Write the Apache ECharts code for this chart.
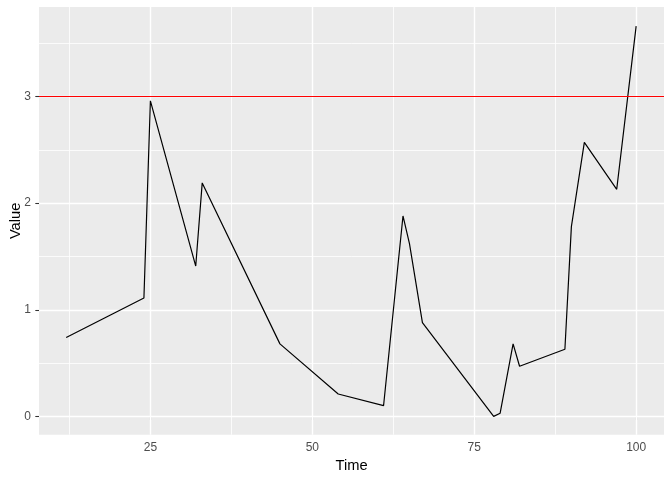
<!DOCTYPE html>
<html>
<head>
<meta charset="utf-8">
<script src="https://cdn.jsdelivr.net/npm/echarts@6/dist/echarts.min.js"></script>
<style>
html,body{margin:0;padding:0;background:#fff;}
#chart{width:672px;height:480px;}
</style>
</head>
<body>
<div id="chart"></div>
<script>
const times = [12, 24, 25, 32, 33, 45, 54, 61, 64, 65, 67, 78, 79, 81, 82, 89, 90, 92, 97, 100];
const values = [0.74, 1.11, 2.96, 1.41, 2.19, 0.68, 0.21, 0.10, 1.88, 1.62, 0.88, 0.00, 0.03, 0.68, 0.47, 0.63, 1.78, 2.57, 2.13, 3.66];
const thresholdValue = 3;
const xTicks = [25, 50, 75, 100];
const xMinor = [12.5, 37.5, 62.5, 87.5];
const yTicks = [0, 1, 2, 3];
const yMinor = [0.5, 1.5, 2.5, 3.5];
const xRange = [7.8, 104.3];
const yRange = [-0.172, 3.84];

const font = 'Liberation Sans, Arial, sans-serif';
const chart = echarts.init(document.getElementById('chart'), null, {renderer: 'canvas'});

const gridLines = [];
xMinor.forEach(v => gridLines.push({xAxis: v, lineStyle: {color: '#fff', width: 0.8, type: 'solid'}}));
yMinor.forEach(v => gridLines.push({yAxis: v, lineStyle: {color: '#fff', width: 0.8, type: 'solid'}}));
xTicks.forEach(v => gridLines.push({xAxis: v, lineStyle: {color: '#fff', width: 1.4, type: 'solid'}}));
yTicks.forEach(v => gridLines.push({yAxis: v, lineStyle: {color: '#fff', width: 1.4, type: 'solid'}}));

chart.setOption({
  animation: false,
  backgroundColor: '#ffffff',
  grid: {left: 39, right: 8, top: 7, bottom: 45.3, show: true, backgroundColor: '#EBEBEB', borderWidth: 0,
         containLabel: false, outerBoundsMode: 'none'},
  xAxis: {
    type: 'value', min: xRange[0], max: xRange[1],
    name: 'Time', nameLocation: 'middle', nameGap: 24, nameMoveOverlap: false,
    nameTextStyle: {color: '#000', fontSize: 14.7, fontFamily: font},
    axisLine: {show: false},
    axisTick: {show: true, length: 3.7, lineStyle: {color: '#333333', width: 1.07}, customValues: xTicks},
    axisLabel: {color: '#4D4D4D', fontSize: 12, fontFamily: font, margin: 7, customValues: xTicks},
    splitLine: {show: false}
  },
  yAxis: {
    type: 'value', min: yRange[0], max: yRange[1],
    name: 'Value', nameLocation: 'middle', nameGap: 16, nameRotate: 90, nameMoveOverlap: false,
    nameTextStyle: {color: '#000', fontSize: 14.7, fontFamily: font},
    axisLine: {show: false},
    axisTick: {show: true, length: 3.7, lineStyle: {color: '#333333', width: 1.07}, customValues: yTicks},
    axisLabel: {color: '#4D4D4D', fontSize: 12, fontFamily: font, margin: 8, customValues: yTicks},
    splitLine: {show: false}
  },
  series: [
    {
      type: 'line', data: [], silent: true, z: 1,
      markLine: {silent: true, symbol: 'none', z: 1, label: {show: false}, animation: false, data: gridLines}
    },
    {
      type: 'line', z: 2,
      data: times.map((t, i) => [t, values[i]]),
      showSymbol: false, symbol: 'none',
      lineStyle: {color: '#000000', width: 1.2},
      markLine: {
        silent: true, symbol: 'none', z: 3, label: {show: false}, animation: false,
        data: [{yAxis: thresholdValue, lineStyle: {color: '#FF0000', width: 1.2, type: 'solid'}}]
      }
    }
  ]
});
</script>
</body>
</html>
